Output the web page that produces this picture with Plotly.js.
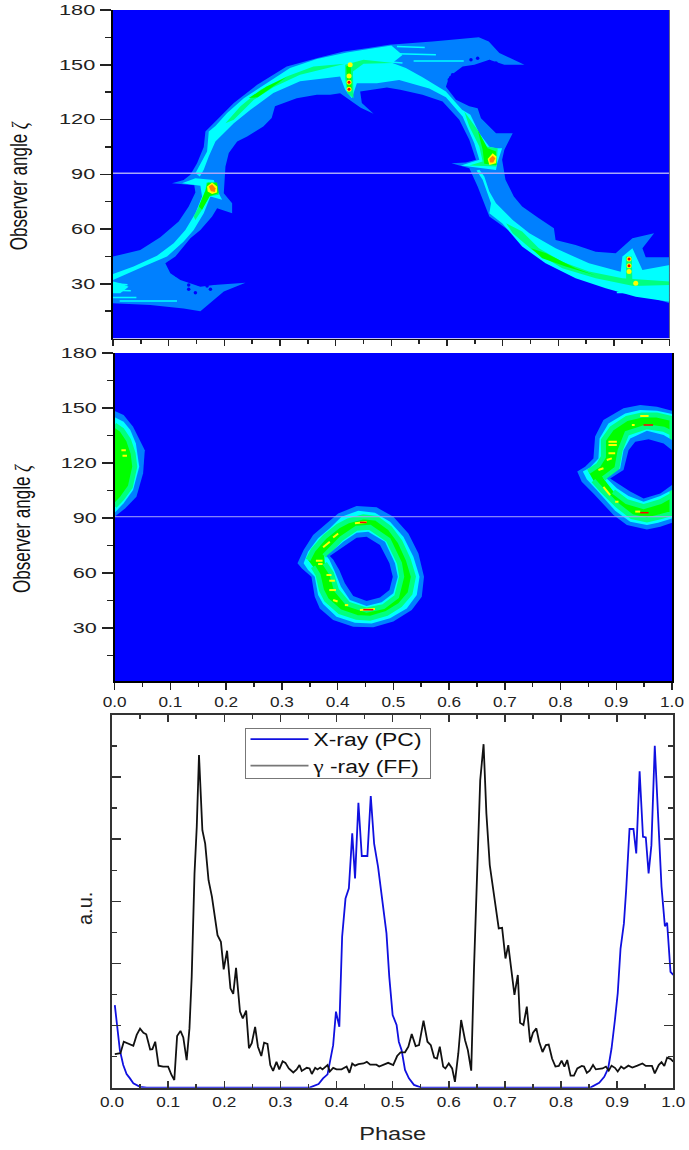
<!DOCTYPE html>
<html><head><meta charset="utf-8">
<script src="https://cdn.plot.ly/plotly-3.0.1.min.js"></script>
<style>html,body{margin:0;padding:0;background:#fff}#chart{width:689px;height:1150px}</style>
</head><body><div id="chart"></div>
<script>
// ---------- colour levels ----------
const BG='#0000ff', L1='#0080ff', L2='#00ffff', L3='#00ff80', L4='#00ff00', L5='#ffff00', L6='#ff8000', L7='#ff0000';

// ---------- top map (phase / observer angle) ----------
const topL1Phase=[0,.049,.085,.118,.136,.148,.146,.106,.127,.139,.151,.163,.166,.184,.217,.259,.312,.366,.414,.456,.496,.574,.615,.657,.675,.694,.739,.703,.676,.649,.628,.604,.598,.616,.640,.655,.661,.688,.718,.703,.699,.705,.720,.735,.765,.792,.795,.831,.867,.903,.933,.972,.951,.957,1,1,.951,.915,.855,.795,.754,.718,.676,.667,.655,.640,.608,.634,.652,.640,.622,.592,.556,.516,.492,.444,.447,.468,.445,.429,.408,.390,.366,.330,.291,.285,.270,.241,.223,.208,.202,.199,.214,.214,.187,.178,.157,.139,.112,.094,.103,.121,.157,.181,.238,.199,.178,.157,.127,.067,0];
const topL1Angle=[44.9,48.5,55.5,64.1,72.3,80,84,85.1,86.9,89.7,96,105,113.4,118.9,129,139,149,153.6,157.3,159,161,162.7,164,165.1,162.8,156.4,150,150,152.8,150,149,143.6,138,130.8,127.2,126.2,120.7,112.5,112.5,103.4,97.9,87,77.8,72.3,65.9,60.4,54,51.3,47.6,46.7,54.9,57.7,49.4,44.5,44.5,19.3,23.9,26.6,32.1,41.2,49.4,57.7,66.8,74.1,83.3,93.3,96,96.4,98,108.9,119.8,129.9,133.5,136.3,137.5,135.4,129,123.1,126.5,129.9,134.4,133.5,133.5,131.7,127.2,120.8,116.2,110.7,108,101.6,94.2,79.6,74.1,68.6,71.4,66.8,59.5,54.9,44.9,41.2,35.7,32.1,28.4,29.3,30.6,25.7,20.2,15,16.5,18.4,19.3];
const topHolesPhase=[.100,.114,.136,.154,.169,.184,.148,.136,.175,.643,.655,.676,.688,.610,.604];
const topHolesAngle=[41.2,34.8,29.3,29.9,28.8,30.6,25.1,27,27,152.7,153.6,151.8,150.9,144.5,141.8];

const topCyanAPhase=[0,.037,.079,.109,.130,.148,.160,.157,.124,.148,.181,.187,.196,.175,.163,.145,.127,.097,.055,0];
const topCyanAAngle=[35.3,39.4,45.3,52.2,59.5,68.6,77.8,83.7,85.1,87.8,86.9,81.4,76,77.8,68.6,59.5,53.1,44.9,39.4,32.1];
const topCyanBPhase=[.148,.157,.169,.172,.184,.205,.235,.276,.318,.366,.420,.468,.500,.520,.502,.526,.556,.598,.627,.642,.658,.676,.688,.699,.690,.688,.625,.658,.649,.628,.598,.568,.514,.474,.438,.429,.417,.408,.336,.288,.247,.217,.184,.172,.163,.156];
const topCyanBAngle=[90.6,96,102.4,113.4,116.5,123.5,131.7,139.9,148.2,153.1,156.7,159.1,160.5,155.4,150.9,148.2,143.2,135.4,125.3,122.6,112.5,105.1,104.2,104.2,95.9,92.3,94.8,97.9,107,121.6,132.2,137,141.7,139.9,139.9,131.7,136.3,143.6,140.9,134.5,125.3,118,108,99.7,92.4,88.7];
const topCyanCPhase=[.653,.664,.679,.676,.699,.735,.777,.831,.885,.939,1,1,.951,.933,.915,.912,.855,.795,.748,.718,.688,.676,.667,.658];
const topCyanCAngle=[92,87,74.1,68.6,63.2,50.4,41.2,33,27.5,22.9,20.2,40.3,37.6,49.4,44.9,36.6,41.2,49.4,57.7,65,74.1,80.5,88.8,92.4];
const topCyanDPhase=[0,.013,.028,.013,0];
const topCyanDAngle=[31.2,30.3,28.4,24.8,24.8];
const topStreakPhase=[0,.032,null,0,.042,null,.012,.115,null,.004,.026,null,.51,.56,null,.51,.58,null,.54,.63,null,.95,1,null,.96,1,null,.97,1,null,.905,.945,null,.44,.50,null,.45,.51,null,.46,.52];
const topStreakAngle=[26.5,26.2,null,22.5,22.5,null,20.6,20.6,null,30,29.5,null,160,159.5,null,156,155.5,null,152,152,null,36,36,null,25,25,null,23,22.6,null,25.2,25.2,null,146,146,null,143,143,null,152.6,151];

const topMintArcPhase=[.202,.229,.265,.312,.360,.417,.336,.288,.253,.217];
const topMintArcAngle=[118,127.2,136.3,143.6,149,150.5,144.5,137.7,130.8,119.8];
const topGreenArcPhase=[.244,.276,.312,.288,.260];
const topGreenArcAngle=[131.8,138.1,143.3,138.1,132.2];

const topMintP1Phase=[.145,.157,.166,.168,.187,.190,.172,.160,.148];
const topMintP1Angle=[66.8,74.1,81.4,85.5,84.2,78.7,77.8,70.5,65];
const topGreenP1Phase=[.154,.166,.170,.187,.190,.174,.160];
const topGreenP1Angle=[72.3,81,85.5,85.5,79.6,78.1,70.5];
const topYellowP1Phase=[.169,.178,.187,.187,.178,.170];
const topYellowP1Angle=[83.3,85.5,83.3,80,79.2,80.5];
const topOrangeP1Phase=[.172,.178,.184,.183,.176];
const topOrangeP1Angle=[83.3,84.5,82.3,80.3,80.7];

const topMintP2Phase=[.417,.450,.504,.450,.431,.432,.421,.417];
const topMintP2Angle=[150,152.7,150.9,150.5,146.3,131.7,134.4,142.6];
const topGreenP2Phase=[.419,.427,.429,.421];
const topGreenP2Angle=[149,150,136.3,135.9];

const topMintP3Phase=[.631,.655,.670,.691,.689,.640,.664,.658,.640];
const topMintP3Angle=[124.4,114.3,105.2,104.3,94.2,94.8,97,105.2,116.2];
const topGreenP3Phase=[.655,.673,.688,.689,.667,.664];
const topGreenP3Angle=[114.3,104.3,102.5,95.1,95.7,103.4];
const topYellowP3Phase=[.673,.682,.689,.688,.676];
const topYellowP3Angle=[98.3,101.5,99.7,96,95.1];
const topOrangeP3Phase=[.676,.682,.687,.683,.677];
const topOrangeP3Angle=[98.3,100.1,98.8,96.4,96.4];

const topMintP4Phase=[.706,.735,.765,.807,.855,.915,1,1,.935,.867,.807,.753,.718];
const topMintP4Angle=[63.2,58.6,49.4,42.1,36.7,33,31.2,29.3,28.8,33,38.5,48.5,57.7];
const topGreenP4Phase=[.751,.778,.831,.867,.813,.771];
const topGreenP4Angle=[49.4,46.7,38.5,34.5,39.4,44];
const topMintV4Phase=[.921,.932,.933,.922];
const topMintV4Angle=[44.9,44.9,30.3,30.6];

const topDotPhase=[.424,.424,.424,.426,.927,.927,.927,.939];
const topDotAngle=[143.9,140.4,136.6,150,43.6,39.9,36.7,30.3];
const topDotRedPhase=[.424,.424,.927,.927];
const topDotRedAngle=[140.4,136.6,43.6,39.9];

// ---------- middle map ----------
const midAL1Phase=[.328,.339,.356,.380,.401,.434,.470,.500,.527,.545,.555,.551,.533,.500,.464,.428,.392,.368,.359,.353,.336];
const midAL1Angle=[65.3,72.5,80.7,87.1,92.5,96.5,95.8,90.7,81.6,70.7,58,47.1,39.8,33.5,30.4,30.7,34.4,40.7,47.1,58,62.5];
const midACyanPhase=[.339,.347,.365,.386,.407,.437,.467,.494,.518,.536,.547,.542,.524,.494,.461,.431,.398,.374,.365,.359,.347];
const midACyanAngle=[65.3,71.6,78.9,84.4,90.7,94,92.9,88,79.8,68.9,58,48,40.7,35.3,32.5,32.9,36.2,43.1,48,58,61.6];
const midAGreenPhase=[.347,.356,.377,.401,.419,.446,.470,.494,.512,.527,.536,.530,.512,.488,.458,.434,.404,.380,.371,.365,.356];
const midAGreenAngle=[67.1,72.5,79.8,85.6,88.5,90.7,89.8,84.4,77.1,67.1,58,48.9,42.5,38,35.3,35.8,38.9,45.3,50.7,58.9,63.4];
const midAHoleGreenPhase=[.376,.407,.434,.458,.491,.511,.515,.506,.482,.452,.419,.398,.389,.377];
const midAHoleGreenAngle=[69.3,78.9,84.4,84.9,78,65.3,58,47.1,41.6,39.8,43.1,50.7,59.8,65.3];
const midAHoleCyanPhase=[.380,.410,.434,.455,.485,.503,.508,.500,.479,.452,.422,.406,.395,.385];
const midAHoleCyanAngle=[69.3,77.1,82,82.5,77.1,65.3,58,48.9,44,42,45.3,52.5,60.7,67.4];
const midAHoleL1Phase=[.386,.410,.434,.452,.476,.493,.499,.493,.476,.452,.428,.413,.403,.392];
const midAHoleL1Angle=[69.3,74.4,79.3,79.8,75.3,65.3,58,50.7,46.7,44.7,47.4,54.4,61.6,67.4];

const midBL1Phase=[.830,.844,.859,.862,.877,.913,.943,.973,1,1,.979,.955,.919,.895,.859,.838];
const midBL1Angle=[115.3,118,122.5,134.4,143.4,149.8,151.6,150.7,148.5,87.4,85.3,83.8,86.2,91.6,103.4,109.8];
const midBCyanPhase=[.840,.853,.868,.870,.886,.916,.943,.973,1,1,.975,.955,.925,.898,.865,.847];
const midBCyanAngle=[115.3,117.6,122.5,133.4,141.6,147,148.9,148.5,146.7,89.8,87.4,86.2,88,94,105.3,111.1];
const midBGreenPhase=[.850,.868,.877,.877,.892,.919,.946,.973,1,1,.979,.955,.928,.901,.874,.859];
const midBGreenAngle=[115.3,118.9,123.4,132.5,138.9,144.3,146.2,146.2,144.3,92.5,90.7,88.9,90.7,97.1,105.3,110.4];
const midBHoleGreenPhase=[.877,.901,.907,.919,.955,.985,1,1,.979,.949,.919,.895];
const midBHoleGreenAngle=[111.6,117,127,136.2,139.8,138.4,136.2,102.5,98.9,96.2,98.9,104.4];
const midBHoleCyanPhase=[.883,.907,.913,.925,.955,.985,1,1,.979,.949,.922,.901];
const midBHoleCyanAngle=[111.6,117,127,133.4,137.6,135.3,132.5,105.3,102,98.9,102,106.2];
const midBHoleL1Phase=[.889,.913,.922,.934,.958,.985,1,1,.979,.949,.925,.907];
const midBHoleL1Angle=[111.6,116.2,127,131.6,132.9,130.7,127,108,103.4,100.7,104.4,108];

const midCL1Phase=[0,.016,.033,.048,.054,.051,.039,.019,0];
const midCL1Angle=[148.3,146.2,139.8,130.7,127,114.4,101.6,95.3,90.7];
const midCCyanPhase=[0,.016,.028,.038,.044,.033,.016,0];
const midCCyanAngle=[144.9,142.5,138,130.7,118,105.3,98,92.9];
const midCGreenPhase=[0,.013,.025,.033,.036,.028,.013,0];
const midCGreenAngle=[140.7,138,132.5,125.3,118,107,100.7,96.5];

const midYellowPhase=[.431,.452,null,.440,.467,null,.374,.386,null,.392,.401,null,.380,.389,null,.385,.395,null,.385,.397,null,.361,.373,null,.365,.373,null,.392,.400,null,.413,.419,null,.886,.901,null,.886,.901,null,.886,.898,null,.883,.892,null,.868,.877,null,.877,.889,null,.898,.904,null,.934,.943,null,.943,.958,null,.928,.933,null,.012,.020,null,.014,.022];
const midYellowAngle=[87.1,87.8,null,39.8,40.4,null,74,77.1,null,79.4,81.6,null,58.9,58.9,null,55.8,55.8,null,50.7,50.7,null,66.7,66.7,null,64.9,64.9,null,45.3,44.5,null,42.5,42.5,null,131.6,131.6,null,129.8,129.8,null,125.3,125.3,null,121.6,122.5,null,116.2,117.1,null,107,102.5,null,98.9,98.9,null,93.5,93.5,null,145.6,145.6,null,140.7,140.7,null,127,127,null,124,124];
const midRedPhase=[.440,.452,null,.446,.464,null,.949,.966,null,.943,.958];
const midRedAngle=[87.6,87.6,null,40,40,null,140.7,140.7,null,92.9,92.9];

// ---------- light curves ----------
const gammaPhase=[.005,.015,.021,.029,.038,.044,.050,.056,.061,.068,.072,.077,.083,.091,.100,.106,.111,.116,.122,.127,.133,.138,.142,.147,.151,.155,.161,.166,.172,.178,.183,.188,.194,.199,.205,.211,.216,.221,.228,.233,.239,.244,.249,.255,.260,.266,.271,.277,.282,.287,.293,.298,.304,.309,.315,.323,.329,.334,.338,.347,.352,.356,.362,.366,.371,.375,.384,.388,.394,.400,.409,.418,.423,.428,.433,.439,.448,.454,.460,.471,.476,.486,.492,.501,.508,.514,.522,.528,.534,.541,.547,.555,.562,.568,.574,.579,.584,.590,.594,.600,.606,.611,.617,.622,.629,.634,.640,.645,.651,.656,.662,.667,.673,.679,.685,.689,.695,.701,.706,.711,.717,.723,.727,.733,.739,.745,.750,.756,.761,.767,.773,.778,.784,.790,.796,.801,.806,.811,.817,.823,.829,.837,.841,.846,.851,.857,.862,.874,.880,.885,.890,.896,.901,.907,.912,.920,.927,.936,.945,.951,.962,.967,.974,.979,.984,.989,.995,1];
const gammaValue=[1.08,1.11,1.48,1.41,1.35,1.70,1.90,1.77,1.72,1.23,1.24,1.48,.71,.68,.68,.41,.25,1.66,1.83,1.62,.89,1.91,3.57,6.90,8.40,10.71,8.29,7.86,6.68,6.15,5.50,4.91,4.70,3.81,4.41,3.20,3.02,3.86,2.45,2.23,2.48,1.27,1.43,1.96,1.32,1.02,1.45,1.41,.73,.54,.83,.59,.85,.80,.62,.49,.59,.73,.54,.64,.62,.44,.64,.59,.65,.59,.73,.52,.64,.59,.59,.68,.48,.78,.71,.76,.78,.83,.74,.74,.68,.75,.80,.73,1.02,1.14,1.14,1.32,1.73,1.34,1.37,2.16,1.48,1.37,.97,.94,1.32,.68,.62,.78,.62,.19,1.11,2.18,1.53,1.21,.55,3.89,6.90,9.90,11.06,8.83,7.17,6.36,5.61,5.13,5.15,4.16,4.59,3.79,2.99,3.63,2.09,2.02,2.61,1.46,1.77,1.91,1.48,1.15,1.37,1.39,.94,.68,.70,.87,.68,.89,.39,.39,.62,.70,.68,.48,.55,.73,.59,.62,.68,.55,.71,.64,.52,.68,.61,.71,.65,.71,.78,.70,.70,.46,.73,.82,.70,.97,.93,.84];
const xrayPhase=[.005,.010,.014,.020,.026,.032,.038,.050,.062,.329,.353,.368,.376,.384,.388,.394,.399,.405,.410,.416,.422,.428,.433,.439,.445,.455,.461,.467,.474,.483,.489,.494,.500,.507,.511,.516,.522,.529,.538,.550,.565,.832,.853,.868,.877,.884,.890,.896,.901,.906,.912,.916,.922,.929,.934,.940,.946,.951,.956,.961,.967,.973,.979,.985,.989,.995,1];
const xrayValue=[2.66,1.91,1.21,.73,.44,.30,.14,.03,0,0,.01,.12,.30,.43,.84,1.37,2.45,1.96,4.86,6.09,6.42,8.19,6.74,9.17,7.46,7.46,9.39,7.86,7.11,5.93,4.97,3.57,2.34,2.02,1.48,1.21,.57,.30,.09,.01,0,0,.01,.16,.35,.62,1.27,2.18,3.04,4.48,5.29,6.36,8.33,8.33,7.54,10.19,8.08,8.06,6.90,7.81,11.01,8.72,6.47,5.20,5.31,3.73,3.63];

// ---------- tick labels ----------
const angleTicks=[30,60,90,120,150,180];
const angleMinor=[15,45,75,105,135,165];
const phaseTicks=[0,.1,.2,.3,.4,.5,.6,.7,.8,.9,1];
const phaseLabels=['0.0','0.1','0.2','0.3','0.4','0.5','0.6','0.7','0.8','0.9','1.0'];
const phaseMinor=[.05,.15,.25,.35,.45,.55,.65,.75,.85,.95];
const auTicks=[2,4,6,8,10];
const auMinor=[1,3,5,7,9,11];
const seriesNames=['X-ray (PC)','<span style="font-family:\'Liberation Serif\'">γ</span> -ray (FF)'];
const midline=[90.6,90.7];

const W=689,H=1150;
function poly(ax,x,y,fill,lineColor,lw){
  return {type:'scatter',mode:'lines',x:x,y:y,fill:'toself',fillcolor:fill,xaxis:'x'+ax,yaxis:'y'+ax,
    line:{color:lineColor||fill,width:lw||0},hoverinfo:'skip',showlegend:false};
}
const RING=5;
const traces=[
  poly('',topL1Phase,topL1Angle,L1),
  {type:'scatter',mode:'markers',x:topHolesPhase,y:topHolesAngle,xaxis:'x',yaxis:'y',marker:{color:BG,size:3.5},hoverinfo:'skip',showlegend:false},
  poly('',topCyanAPhase,topCyanAAngle,L2),
  poly('',topCyanBPhase,topCyanBAngle,L2),
  poly('',topCyanCPhase,topCyanCAngle,L2),
  poly('',topCyanDPhase,topCyanDAngle,L2),
  {type:'scatter',mode:'lines',x:topStreakPhase,y:topStreakAngle,xaxis:'x',yaxis:'y',line:{color:L2,width:1.5},hoverinfo:'skip',showlegend:false},
  poly('',topMintArcPhase,topMintArcAngle,L3),
  poly('',topGreenArcPhase,topGreenArcAngle,L4),
  poly('',topMintP1Phase,topMintP1Angle,L3),
  poly('',topGreenP1Phase,topGreenP1Angle,L4),
  poly('',topYellowP1Phase,topYellowP1Angle,L5),
  poly('',topOrangeP1Phase,topOrangeP1Angle,L6),
  poly('',topMintP2Phase,topMintP2Angle,L3),
  poly('',topGreenP2Phase,topGreenP2Angle,L4),
  poly('',topMintP3Phase,topMintP3Angle,L3),
  poly('',topGreenP3Phase,topGreenP3Angle,L4),
  poly('',topYellowP3Phase,topYellowP3Angle,L5),
  poly('',topOrangeP3Phase,topOrangeP3Angle,L6),
  poly('',topMintP4Phase,topMintP4Angle,L3),
  poly('',topGreenP4Phase,topGreenP4Angle,L4),
  poly('',topMintV4Phase,topMintV4Angle,L3),
  {type:'scatter',mode:'markers',x:topDotPhase,y:topDotAngle,xaxis:'x',yaxis:'y',marker:{color:L5,size:5},hoverinfo:'skip',showlegend:false},
  {type:'scatter',mode:'markers',x:topDotRedPhase,y:topDotRedAngle,xaxis:'x',yaxis:'y',marker:{color:L7,size:3},hoverinfo:'skip',showlegend:false},
  {type:'scatter',mode:'lines',x:[0,1],y:[midline[0],midline[0]],xaxis:'x',yaxis:'y',line:{color:'#a8a8f8',width:1.5},hoverinfo:'skip',showlegend:false},

  poly('2',midAL1Phase,midAL1Angle,L1),
  poly('2',midACyanPhase,midACyanAngle,L2),
  poly('2',midAGreenPhase,midAGreenAngle,L4,L3,RING),
  poly('2',midAHoleGreenPhase,midAHoleGreenAngle,L2,L3,RING),
  poly('2',midAHoleCyanPhase,midAHoleCyanAngle,L1),
  poly('2',midAHoleL1Phase,midAHoleL1Angle,BG),
  poly('2',midBL1Phase,midBL1Angle,L1),
  poly('2',midBCyanPhase,midBCyanAngle,L2),
  poly('2',midBGreenPhase,midBGreenAngle,L4,L3,RING),
  poly('2',midBHoleGreenPhase,midBHoleGreenAngle,L2,L3,RING),
  poly('2',midBHoleCyanPhase,midBHoleCyanAngle,L1),
  poly('2',midBHoleL1Phase,midBHoleL1Angle,BG),
  poly('2',midCL1Phase,midCL1Angle,L1),
  poly('2',midCCyanPhase,midCCyanAngle,L2),
  poly('2',midCGreenPhase,midCGreenAngle,L4,L3,RING),
  {type:'scatter',mode:'lines',x:midYellowPhase,y:midYellowAngle,xaxis:'x2',yaxis:'y2',line:{color:L5,width:2},hoverinfo:'skip',showlegend:false},
  {type:'scatter',mode:'lines',x:midRedPhase,y:midRedAngle,xaxis:'x2',yaxis:'y2',line:{color:L7,width:1.5},hoverinfo:'skip',showlegend:false},
  {type:'scatter',mode:'lines',x:[0,1],y:[midline[1],midline[1]],xaxis:'x2',yaxis:'y2',line:{color:'#a8a8f8',width:1},hoverinfo:'skip',showlegend:false},

  {type:'scatter',mode:'lines',name:seriesNames[0],x:xrayPhase,y:xrayValue,xaxis:'x3',yaxis:'y3',line:{color:'#1010e0',width:1.8}},
  {type:'scatter',mode:'lines',name:seriesNames[1],x:gammaPhase,y:gammaValue,xaxis:'x3',yaxis:'y3',line:{color:'#111',width:1.8}}
];
const tickFont={family:'"Liberation Sans",Arial,sans-serif',size:14,color:'#222'};
const titleFont={family:'"Liberation Sans",Arial,sans-serif',size:24,color:'#111'};
const angleTitle='Observer angle <span style="font-family:\'Liberation Serif\';font-style:italic">ζ</span>';
function dom(a,b,S){return [a/S,b/S];}
function ydom(top,bot){return [1-bot/H,1-top/H];}
const layout={
  width:W,height:H,autosize:false,margin:{l:0,r:0,t:0,b:0},paper_bgcolor:'#fff',plot_bgcolor:'#fff',
  showlegend:true,
  legend:{x:244.5/W,y:1-728/H,xanchor:'left',yanchor:'top',bgcolor:'#fff',bordercolor:'#777',borderwidth:1,itemwidth:58,traceorder:'normal',
    font:{family:'"Liberation Sans",Arial,sans-serif',size:18,color:'#111'},tracegroupgap:0},
  xaxis:{domain:dom(113,669.7,W),range:[0,1],anchor:'y',tickvals:phaseTicks,showticklabels:false,ticks:'outside',ticklen:6,tickwidth:1.5,tickcolor:'#222',
    minor:{tickvals:phaseMinor,ticks:'outside',ticklen:4,tickwidth:1.5,tickcolor:'#222'},showline:true,linecolor:'#111',linewidth:1.5,showgrid:false,zeroline:false},
  yaxis:{domain:ydom(10,338.5),range:[0,180],anchor:'x',tickvals:angleTicks,ticktext:angleTicks.map(String),ticks:'outside',ticklen:11,tickwidth:1.5,tickcolor:'#222',tickfont:tickFont,ticklabelstandoff:2,
    minor:{tickvals:angleMinor,ticks:'outside',ticklen:6,tickwidth:1.5,tickcolor:'#222'},showline:true,linecolor:'#000',linewidth:2,showgrid:false,zeroline:false,
    title:{text:angleTitle,font:titleFont,standoff:37}},
  xaxis2:{domain:dom(114.7,672,W),range:[0,1],anchor:'y2',tickvals:phaseTicks,ticktext:phaseLabels,ticks:'outside',ticklen:7,tickwidth:1.5,tickcolor:'#222',tickfont:tickFont,
    minor:{tickvals:phaseMinor,ticks:'outside',ticklen:4,tickwidth:1.5,tickcolor:'#222'},showline:true,linecolor:'#000',linewidth:2,showgrid:false,zeroline:false},
  yaxis2:{domain:ydom(353,681),range:[1.1,180],anchor:'x2',tickvals:angleTicks,ticktext:angleTicks.map(String),ticks:'outside',ticklen:11,tickwidth:1.5,tickcolor:'#222',tickfont:tickFont,ticklabelstandoff:2,
    minor:{tickvals:angleMinor,ticks:'outside',ticklen:6,tickwidth:1.5,tickcolor:'#222'},showline:true,linecolor:'#000',linewidth:2,mirror:true,showgrid:false,zeroline:false,
    title:{text:angleTitle,font:titleFont,standoff:36}},
  xaxis3:{domain:dom(112,673.3,W),range:[0,1],anchor:'y3',tickvals:phaseTicks,ticktext:phaseLabels,ticks:'inside',ticklen:7,tickwidth:1.5,tickcolor:'#333',tickfont:tickFont,
    minor:{tickvals:phaseMinor,ticks:'inside',ticklen:4,tickwidth:1.5,tickcolor:'#333'},showline:true,linecolor:'#333',linewidth:2,mirror:'allticks',showgrid:false,zeroline:false,
    title:{text:'Phase',font:{family:titleFont.family,size:17.5,color:'#222'},standoff:19}},
  yaxis3:{domain:ydom(715,1087.7),range:[0,12],anchor:'x3',tickvals:auTicks,showticklabels:false,ticks:'inside',ticklen:9,tickwidth:1.5,tickcolor:'#333',
    minor:{tickvals:auMinor,ticks:'inside',ticklen:5,tickwidth:1.5,tickcolor:'#333'},showline:true,linecolor:'#333',linewidth:2,mirror:'allticks',showgrid:false,zeroline:false,
    title:{text:'a.u.',font:{family:titleFont.family,size:20,color:'#222'},standoff:12}},
  shapes:[
    {type:'rect',xref:'x',yref:'y',x0:0,x1:1,y0:0,y1:180,fillcolor:BG,line:{width:0},layer:'below'},
    {type:'rect',xref:'x2',yref:'y2',x0:0,x1:1,y0:1.1,y1:180,fillcolor:BG,line:{width:0},layer:'below'},
    {type:'line',xref:'x',yref:'y',x0:1,x1:1,y0:0,y1:180,line:{color:'#555',width:1.5}}
  ]
};
function stretch(sel,f){
  document.querySelectorAll(sel).forEach(function(t){
    const n=t.getComputedTextLength();
    t.setAttribute('lengthAdjust','spacingAndGlyphs');
    t.setAttribute('textLength',(n*f).toFixed(1));
  });
}
function nudge(sel,dy){
  document.querySelectorAll(sel).forEach(function(t){
    t.setAttribute('transform','translate(0,'+dy+') '+(t.getAttribute('transform')||''));
  });
}
const gd=document.getElementById('chart');
Plotly.newPlot(gd,traces,layout,{displayModeBar:false,staticPlot:true}).then(function(){
  stretch('.yaxislayer-above .ytick text, .yaxislayer-above .y2tick text',1.55);
  stretch('.xaxislayer-above .x2tick text, .xaxislayer-above .x3tick text',1.23);
  document.querySelectorAll('.ytitle, .y2title').forEach(function(t){
    t.setAttribute('lengthAdjust','spacingAndGlyphs');t.setAttribute('textLength','128');
  });
  nudge('.ytitle, .y2title',12);
  nudge('.y3title',7);
  stretch('.x3title',1.35);
  // legend box as in the reference
  stretch('.legend .legendtext',1.27);
  const bg=document.querySelector('.legend .bg');
  bg.setAttribute('width','185');bg.setAttribute('height','50');
  const sb=document.querySelector('.legend .scrollbox');
  sb.setAttribute('transform','translate(0,-8)');
  document.querySelectorAll('clipPath[id^="legend"] rect').forEach(function(r){r.setAttribute('width','200');r.setAttribute('height','100');});
  const lines=document.querySelectorAll('.legend .legendlines path');
  if(lines[1]) lines[1].style.stroke='#777';
});
</script></body></html>
